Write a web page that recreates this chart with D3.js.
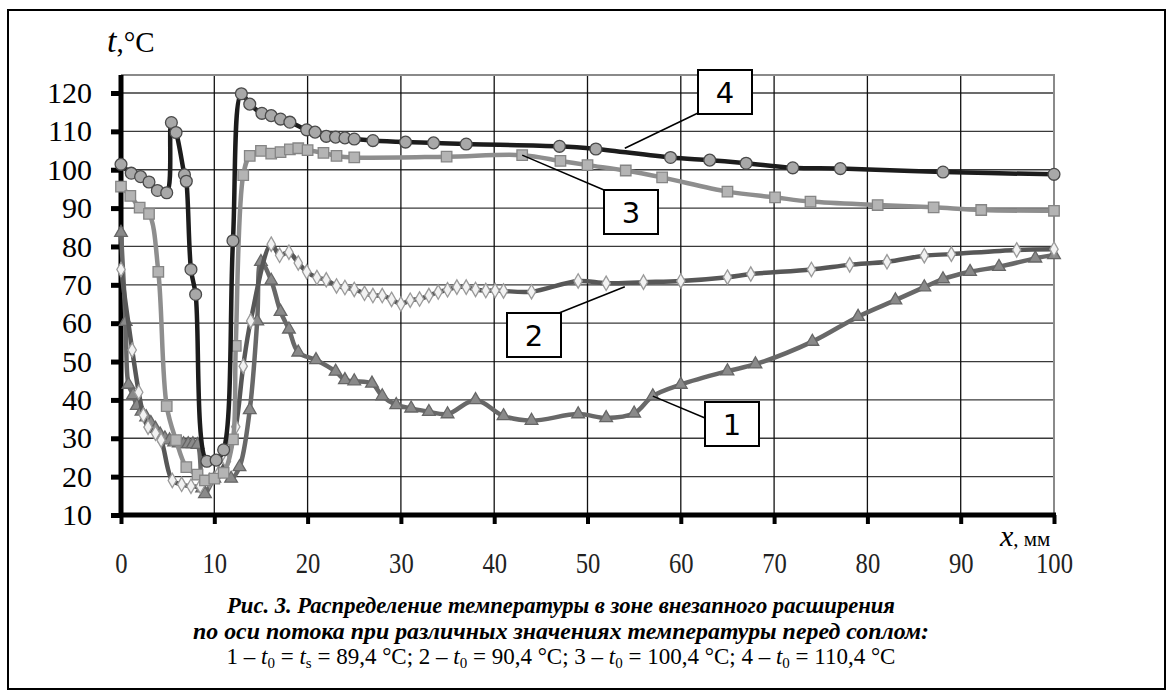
<!DOCTYPE html>
<html><head><meta charset="utf-8">
<script src="https://cdn.jsdelivr.net/npm/d3@7"></script>
<style>body{margin:0;background:#fff}svg{display:block}</style>
</head><body><svg id="c" width="1173" height="695"></svg>
<script>
// ---- data ----
const xTicks = [0,10,20,30,40,50,60,70,80,90,100];
const yTicks = [10,20,30,40,50,60,70,80,90,100,110,120];

const x1 = [0,0.5,0.8,1.3,1.7,2.2,2.7,3.2,3.7,4.2,4.7,5.2,5.7,6.2,6.7,7.2,7.7,8.2,8.7,9.0,10.0,11.0,11.8,12.7,13.8,14.6,15.0,16.1,17.1,18.0,19.0,20.9,23.0,24.0,25.0,26.9,28.0,29.5,31.1,33.0,35.0,38.0,41.0,44.0,49.0,52.0,55.0,57.0,60.0,65.0,68.0,74.1,79.0,83.0,86.1,88.1,91.0,94.1,98.0,100];
const y1 = [83.6,60.4,44,41.3,38.5,37,35.5,34,32.5,31,30,29.5,29,28.7,28.5,28.5,28.5,28.3,17,15.5,19.5,21,19.5,22.5,37.4,60.5,76,71.1,63,58.4,52.4,50.4,47.4,45.2,44.9,44.3,41,38.7,37.8,36.9,36.3,40,35.8,34.6,36.3,35.3,36.5,41,44,47.5,49.3,55.2,61.7,66,69.4,71.5,73.4,74.7,76.9,77.8];

const x2 = [0,1.2,1.9,2.4,2.9,3.7,4.3,5.5,6.5,7.5,8.5,9.5,10.5,11.3,12.3,13.1,13.9,16.1,17.0,18.0,19.0,19.9,21.0,22.0,23.1,24.0,25.0,26.1,27.0,28.0,29.0,30.0,31.0,32.0,33.0,34.0,35.0,36.0,37.0,38.0,39.1,40.1,41.0,44.0,49.0,52.0,56.0,60.0,65.0,67.5,74.0,78.1,82.1,86.1,89.0,96.0,100];
const y2 = [74,53,42,36,32.9,31.3,29.5,19,18,17.5,17.5,19,21,24,33,48.8,60.6,80.6,77.7,78.5,75.7,73.4,71.9,71.3,69.7,69.3,68.8,67.8,67.2,67.2,66.2,65.0,66.0,66.3,67.2,68.1,68.7,69.4,69.4,68.8,68.5,68.5,68.4,68.2,71.0,70.4,70.7,71.0,72.0,72.8,74.0,75.2,76.0,77.6,78.0,79.1,79.3];

const x3 = [0,1.0,2.0,3.0,4.0,4.9,5.9,7.0,8.2,9.0,10.0,11.0,12.0,12.3,13.1,13.8,15.0,16.1,17.1,18.1,19.0,20.0,21.7,23.1,25.0,34.9,43.0,47.1,50.0,54.1,58.0,65.0,70.1,73.9,81.1,87.1,92.2,100];
const y3 = [95.6,93.2,90.1,88.5,73.4,38.4,29.5,22.5,20.5,19,19.5,21,29.7,54.1,98.6,103.6,104.9,104.2,104.6,105.3,105.6,105.1,104.4,103.6,103.2,103.4,103.8,102.3,101.2,99.8,98.0,94.3,92.8,91.7,90.8,90.2,89.5,89.3];

const x4 = [0,1.1,2.1,3.0,3.9,4.9,5.4,5.9,6.8,7.0,7.5,8.0,9.2,10.2,11.0,12.0,12.9,13.8,15.1,16.1,17.1,18.1,19.9,20.8,22.0,23.0,24.0,25.0,27.0,30.5,33.5,37.0,47.0,50.9,58.9,63.1,67.0,72.0,77.1,88.1,100];
const y4 = [101.4,99.1,98.2,96.8,94.6,94.0,112.3,109.7,98.7,97,74,67.5,24,24.3,27,81.5,119.8,117.1,114.7,114.1,113.2,112.4,110.4,109.8,108.7,108.5,108.3,108,107.6,107.2,107,106.7,106.1,105.4,103.2,102.5,101.7,100.5,100.3,99.4,98.8];

const captionLines = [
  "Рис. 3. Распределение температуры в зоне внезапного расширения",
  "по оси потока при различных значениях температуры перед соплом:"
];

// ---- layout ----
const svg = d3.select("#c");
const X0 = 121, X1 = 1054, YB = 515, YT = 93, PLOT_TOP = 75;
const x = d3.scaleLinear().domain([0,100]).range([X0,X1]);
const y = d3.scaleLinear().domain([10,120]).range([YB,YT]);

// outer frame
svg.append("rect").attr("x",8).attr("y",10).attr("width",1157).attr("height",679)
  .attr("fill","#fff").attr("stroke","#000").attr("stroke-width",2);

// gridlines
svg.append("g").selectAll("line").data(yTicks.filter(d=>d>10)).join("line")
  .attr("x1",X0).attr("x2",X1).attr("y1",d=>y(d)).attr("y2",d=>y(d))
  .attr("stroke","#3a3a3a").attr("stroke-width",1.3);
svg.append("g").selectAll("line").data(xTicks.filter(d=>d>0&&d<100)).join("line")
  .attr("y1",PLOT_TOP).attr("y2",YB).attr("x1",d=>x(d)).attr("x2",d=>x(d))
  .attr("stroke","#111").attr("stroke-width",1.3);
svg.append("path").attr("d",`M${X0},${PLOT_TOP}H${X1}V${YB}`).attr("fill","none")
  .attr("stroke","#8a8a8a").attr("stroke-width",2);

// axes
const yAxis = d3.axisLeft(y).tickValues(yTicks).tickSize(10).tickPadding(19).tickFormat(d3.format("d"));
const gy = svg.append("g").attr("transform",`translate(${X0},0)`).call(yAxis);
gy.select(".domain").attr("stroke","#000").attr("stroke-width",5).attr("d",`M0,${YB}V${PLOT_TOP}`);
gy.selectAll(".tick line").attr("stroke","#000").attr("stroke-width",5);
gy.selectAll(".tick text").attr("font-family","Liberation Serif").attr("font-size",30).attr("fill","#000");

const xAxis = d3.axisBottom(x).tickValues(xTicks).tickSize(9).tickPadding(28).tickFormat(d3.format("d"));
const gx = svg.append("g").attr("transform",`translate(0,${YB})`).call(xAxis);
gx.select(".domain").attr("stroke","#000").attr("stroke-width",5).attr("d",`M${X0-2},0H${X1+2}`);
gx.selectAll(".tick line").attr("stroke","#000").attr("stroke-width",4);
gx.selectAll(".tick text").attr("font-family","Liberation Serif").attr("font-size",30).attr("fill","#222")
  .style("transform","scaleX(0.82)").style("transform-box","fill-box").style("transform-origin","center");

// axis titles
const tl = svg.append("text").attr("x",107).attr("y",52).attr("font-family","Liberation Serif").attr("font-size",34);
tl.append("tspan").attr("font-style","italic").text("t");
tl.append("tspan").attr("font-size",29).text(",°C");
const xl = svg.append("text").attr("x",1000).attr("y",546).attr("font-family","Liberation Serif").attr("font-size",30);
xl.append("tspan").attr("font-style","italic").text("x");
xl.append("tspan").attr("font-size",21).text(", мм");

// series
const curve = d3.curveCatmullRom.alpha(0.5);
const line = d3.line().x(d=>x(d[0])).y(d=>y(d[1])).curve(curve);
const series = [
  {xs:x1, ys:y1, color:"#686868", mark:d3.symbolTriangle, size:70, fill:"#8a8a8a", stroke:"#666"},
  {xs:x2, ys:y2, color:"#575757", mark:d3.symbolDiamond, size:60, fill:"#f2f2f2", stroke:"#9a9a9a"},
  {xs:x3, ys:y3, color:"#8e8e8e", mark:d3.symbolSquare, size:110, fill:"#b4b4b4", stroke:"#858585"},
  {xs:x4, ys:y4, color:"#1c1c1c", mark:d3.symbolCircle, size:110, fill:"#a8a8a8", stroke:"#4a4a4a"}
];
series.forEach(s=>{
  const pts = s.xs.map((v,i)=>[v,s.ys[i]]);
  svg.append("path").datum(pts).attr("d",line).attr("fill","none")
    .attr("stroke",s.color).attr("stroke-width",4.5).attr("stroke-linejoin","round");
  svg.append("g").selectAll("path").data(pts).join("path")
    .attr("transform",d=>`translate(${x(d[0])},${y(d[1])})`)
    .attr("d",d3.symbol().type(s.mark).size(s.size))
    .attr("fill",s.fill).attr("stroke",s.stroke).attr("stroke-width",1.3);
});

// callouts
const callouts = [
  {label:"4", bx:698, by:70, lx1:698, ly1:113, px:54, pv:105.6},
  {label:"3", bx:604, by:190, lx1:604, ly1:190, px:43, pv:103.8},
  {label:"2", bx:507, by:313, lx1:559, ly1:313, px:54, pv:69.5},
  {label:"1", bx:705, by:402, lx1:705, ly1:418, px:57, pv:41}
];
callouts.forEach(c=>{
  svg.append("line").attr("x1",c.lx1).attr("y1",c.ly1).attr("x2",x(c.px)).attr("y2",y(c.pv))
    .attr("stroke","#000").attr("stroke-width",1.5);
  svg.append("rect").attr("x",c.bx).attr("y",c.by).attr("width",54).attr("height",44)
    .attr("fill","#fff").attr("stroke","#000").attr("stroke-width",2);
  svg.append("text").attr("x",c.bx+27).attr("y",c.by+33).attr("text-anchor","middle")
    .attr("font-family","DejaVu Sans").attr("font-size",29).text(c.label);
});

// caption
svg.append("text").attr("x",561).attr("y",613).attr("text-anchor","middle")
  .attr("font-family","Liberation Serif").attr("font-weight","bold").attr("font-style","italic")
  .attr("font-size",24).attr("textLength",668).attr("lengthAdjust","spacingAndGlyphs").text(captionLines[0]);
svg.append("text").attr("x",561).attr("y",639).attr("text-anchor","middle")
  .attr("font-family","Liberation Serif").attr("font-weight","bold").attr("font-style","italic")
  .attr("font-size",24).attr("textLength",736).attr("lengthAdjust","spacingAndGlyphs").text(captionLines[1]);
const c3 = svg.append("text").attr("x",561).attr("y",664).attr("text-anchor","middle")
  .attr("font-family","Liberation Serif").attr("font-size",23);
const parts = [["1 – ",""],["t","i"],["0","s"],[" = ",""],["t","i"],["s","s"],[" = 89,4 °C; 2 – ",""],["t","i"],["0","s"],[" = 90,4 °C; 3 – ",""],["t","i"],["0","s"],[" = 100,4 °C; 4 – ",""],["t","i"],["0","s"],[" = 110,4 °C",""]];
parts.forEach((p,i)=>{
  const t = c3.append("tspan").text(p[0]);
  const prev = i>0 ? parts[i-1][1] : "";
  if(p[1]==="i") t.attr("font-style","italic");
  if(p[1]==="s") t.attr("font-size",15).attr("dy",4);
  else if(prev==="s") t.attr("dy",-4);
});
</script></body></html>
